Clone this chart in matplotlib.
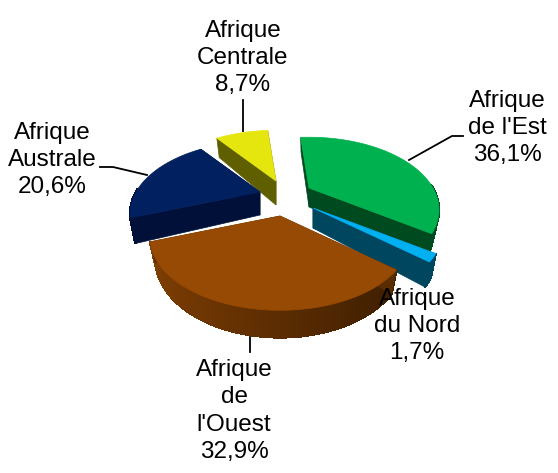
import numpy as np
import matplotlib
matplotlib.use('Agg')
import matplotlib.pyplot as plt

labels = ["Afrique\nde l'Est", "Afrique\ndu Nord", "Afrique\nde\nl'Ouest", "Afrique\nAustrale", "Afrique\nCentrale"]
shares = [36.1, 1.7, 32.9, 20.6, 8.7]
pct_text = ["36,1%", "1,7%", "32,9%", "20,6%", "8,7%"]

# styling / layout, one entry per slice
top_cols = ['#00b14f', '#00b0f0', '#974a03', '#002060', '#e6e60f']
wall_cols = ['#004a1f', '#00465f', '#5a2c02', '#001038', '#5f5f00']
apex = [(309, 188), (313, 208), (280, 216), (260, 192), (276, 181)]
depths = [19, 20, 19, 23, 24]
label_pos = [(507, 128), (417, 326), (234, 411), (52, 160), (243, 58)]
draw_order = [4, 3, 0, 1, 2]
shaded_rim = [False, False, True, False, False]

start = -5.0
s, t, p = 124.0, 66.0, 0.3
shrink = 0.96  # bottom of the pie is a bit narrower than the top

plt.rcParams['font.family'] = ['Liberation Sans', 'DejaVu Sans']


def project(ang, c, z=0.0):
    # clockwise from the back of the pie, with a little perspective
    a = np.radians(ang)
    u = np.sin(a)
    v = -np.cos(a)
    f = 1 / (1 - p * v)
    k = shrink if z else 1.0
    return c[0] + s * u * f * k, c[1] + t * v * f + z * f


fig = plt.figure(figsize=(5.58, 4.73), dpi=100)
ax = fig.add_axes([0, 0, 1, 1])
ax.set_xlim(0, 558)
ax.set_ylim(473, 0)
ax.axis('off')

edges = start + np.cumsum([0] + shares) * 360 / sum(shares)

for z, i in enumerate(draw_order, start=1):
    c = apex[i]
    d = depths[i]
    a0, a1 = edges[i], edges[i + 1]
    angs = np.linspace(a0, a1, 80)

    # outer rim, in strips so the brown one can shade from left to right
    base = np.array(matplotlib.colors.to_rgb(top_cols[i]))
    for k in range(len(angs) - 1):
        m = (angs[k] + angs[k + 1]) / 2
        if np.cos(np.radians(m)) > 0.05:
            continue
        x0, y0 = project(angs[k], c)
        x1, y1 = project(angs[k + 1], c)
        x2, y2 = project(angs[k + 1], c, d)
        x3, y3 = project(angs[k], c, d)
        if shaded_rim[i]:
            col = base * (0.6 - 0.265 * np.sin(np.radians(m)))
        else:
            col = wall_cols[i]
        ax.fill([x0, x1, x2, x3], [y0, y1, y2, y3], color=col, lw=1,
                antialiased=False, zorder=z)

    # radial walls
    for a in (a0, a1):
        x0, y0 = project(a, c)
        x1, y1 = project(a, c, d)
        ax.fill([c[0], x0, x1, c[0]], [c[1], y0, y1, c[1] + d],
                color=wall_cols[i], lw=0.5, zorder=z)

    xs, ys = project(angs, c)
    ax.fill(np.r_[c[0], xs], np.r_[c[1], ys], color=top_cols[i], lw=0.5, zorder=z)

# leader lines
ax.plot([409, 452, 463], [160, 136, 136], color='black', lw=1.3, zorder=10)
ax.plot([147, 113, 100], [175, 167, 167], color='black', lw=1.3, zorder=10)
ax.plot([243, 243], [131, 100], color='black', lw=1.3, zorder=10)
ax.plot([250, 250], [337, 352], color='black', lw=1.3, zorder=10)

for lab, pc, pos in zip(labels, pct_text, label_pos):
    ax.text(pos[0], pos[1], lab + "\n" + pc, ha='center', va='center',
            fontsize=17.5, linespacing=1.31, color='black', zorder=11)

fig.savefig('out.png', dpi=100)
